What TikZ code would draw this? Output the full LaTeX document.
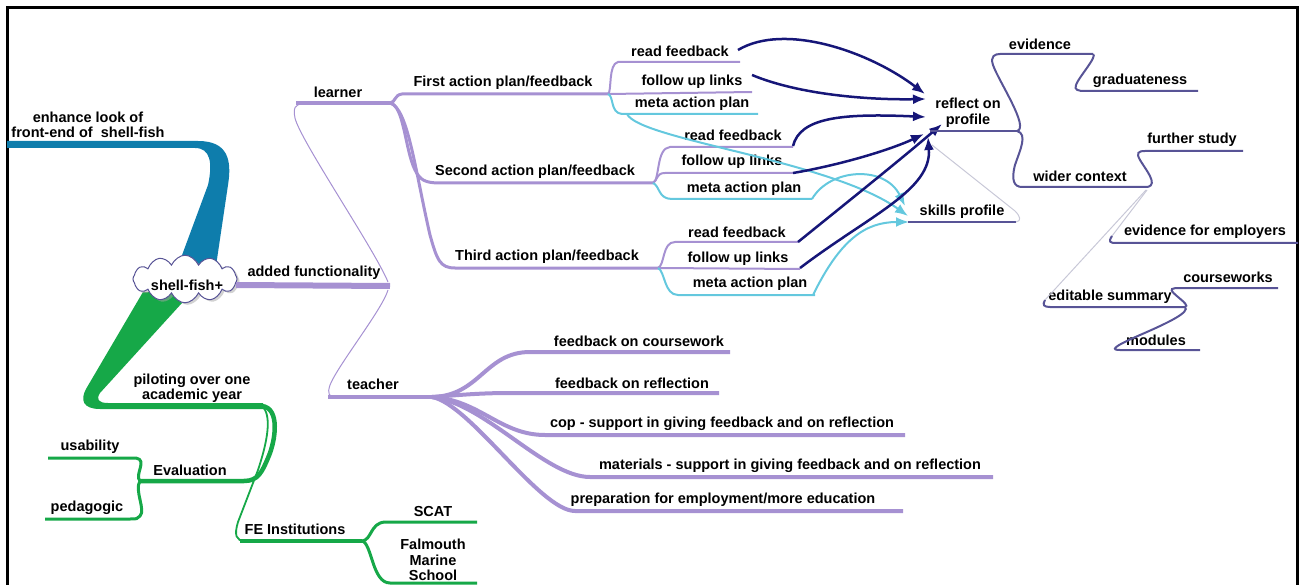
\documentclass[tikz,border=0pt]{standalone}
\usepackage{fontspec}
\setsansfont{Liberation Sans}
\usetikzlibrary{shapes.symbols,arrows.meta,shadows}
\definecolor{bluec}{RGB}{14,125,172}
\definecolor{greenc}{RGB}{22,168,72}
\definecolor{purplec}{RGB}{166,145,210}
\definecolor{cyanc}{RGB}{100,200,222}
\definecolor{navyc}{RGB}{22,22,120}
\definecolor{slatec}{RGB}{88,84,150}
\definecolor{lightc}{RGB}{200,200,215}
\begin{document}
\begin{tikzpicture}[x=1pt,y=-1pt,
  lbl/.style={font=\sffamily\bfseries\fontsize{14.5}{15.5}\selectfont, inner sep=0pt, align=center, text=black},
  pl/.style={purplec, line width=2},
  cl/.style={cyanc, line width=2},
  sl/.style={slatec, line width=2},
  gl/.style={greenc, line width=3},
  tl/.style={purplec, line width=4},
  thin/.style={line width=1},
  narrow/.style={navyc, line width=2.5, -{Latex[length=13pt,width=10pt]}},
  carrow/.style={cyanc, line width=2, -{Latex[length=13pt,width=10pt]}},
]
\useasboundingbox (0,0) rectangle (1300,585);
% frame
\draw[line width=3] (7,585) -- (7,8) -- (1297,8) -- (1297,585);

% blue main branch
\fill[bluec] (7,141) -- (198,141) .. controls (228,141) and (232,160) .. (228,185) -- (216,266) -- (178,266) -- (208,185) .. controls (213,162) and (210,148) .. (195,148) -- (7,148) -- cycle;
% green main branch
\fill[greenc] (143,292) -- (192,292) -- (100,393) .. controls (96,399) and (98,403) .. (108,403) -- (263,403) -- (263,409) -- (100,409) .. controls (83,409) and (80,400) .. (86,389) -- cycle;

% root
\node[cloud, cloud puffs=12, cloud puff arc=110, cloud ignores aspect, draw=slatec, line width=1, fill=white,
      minimum width=104, minimum height=34, inner sep=0pt, yscale=1.4, transform shape,
      drop shadow={shadow xshift=2.5pt, shadow yshift=-2pt, fill=gray!70}] (root) at (185,279) {};
\node[lbl] (rootl) at (187,285) {shell-fish+};

% labels
\node[lbl] (enh) at (88,125) {enhance look of\\front-end of\ \ shell-fish};
\node[lbl] (add) at (314,273) {added functionality};
\node[lbl] (learner) at (338,92) {learner};
\node[lbl] (teacher) at (373,384) {teacher};
\node[lbl] (ap1) at (503,83) {First action plan/feedback};
\node[lbl] (ap2) at (535,172) {Second action plan/feedback};
\node[lbl] (ap3) at (547,257) {Third action plan/feedback};
\node[lbl] (rf1) at (680,51) {read feedback};
\node[lbl] (fu1) at (692,82) {follow up links};
\node[lbl] (mp1) at (692,104) {meta action plan};
\node[lbl] (rf2) at (733,135) {read feedback};
\node[lbl] (fu2) at (732,162) {follow up links};
\node[lbl] (mp2) at (744,189) {meta action plan};
\node[lbl] (rf3) at (737,232) {read feedback};
\node[lbl] (fu3) at (738,259) {follow up links};
\node[lbl] (mp3) at (750,284) {meta action plan};
\node[lbl] (refl) at (968,113) {reflect on\\profile};
\node[lbl] (skills) at (962,212) {skills profile};
\node[lbl] (evid) at (1040,44) {evidence};
\node[lbl] (grad) at (1140,81) {graduateness};
\node[lbl] (wider) at (1080,176) {wider context};
\node[lbl] (further) at (1192,140) {further study};
\node[lbl] (emp) at (1205,232) {evidence for employers};
\node[lbl] (edit) at (1110,297) {editable summary};
\node[lbl] (cw) at (1228,277) {courseworks};
\node[lbl] (mod) at (1156,340) {modules};
\node[lbl] (t1) at (639,341) {feedback on coursework};
\node[lbl] (t2) at (632,383) {feedback on reflection};
\node[lbl] (t3) at (722,424) {cop - support in giving feedback and on reflection};
\node[lbl] (t4) at (790,466) {materials - support in giving feedback and on reflection};
\node[lbl] (t5) at (723,500) {preparation for employment/more education};
\node[lbl] (pilot) at (192,388) {piloting over one\\academic year};
\node[lbl] (eval) at (190,470) {Evaluation};
\node[lbl] (usab) at (90,447) {usability};
\node[lbl] (peda) at (87,508) {pedagogic};
\node[lbl] (fe) at (295,529) {FE Institutions};
\node[lbl] (scat) at (433,512) {SCAT};
\node[lbl] (falm) at (433,560) {Falmouth\\Marine\\School};

% junction coordinates
\coordinate (addE) at (390,286);
\coordinate (lrnE) at (390,103);
\coordinate (f1) at (608,94);
\coordinate (f2) at (653,183);
\coordinate (f3) at (658,268);
\coordinate (tchE) at (432,397);
\coordinate (reflE) at (1017,131);
\coordinate (widE) at (1148,187);
\coordinate (edE) at (1185,307);
\coordinate (pilE) at (262,406);
\coordinate (evL) at (140,481);
\coordinate (feE) at (362,541);

% green sub-branches
\draw[greenc, line width=4.5] (pilE) .. controls (280,408) and (276,440) .. (268,458) .. controls (262,472) and (258,481) .. (244,481) -- (evL);
\draw[greenc, line width=1.8] (pilE) .. controls (272,415) and (268,440) .. (258,470) -- (238,522) .. controls (234,535) and (236,541) .. (245,541);
\draw[greenc, line width=4] (240,541) -- (feE);
\draw[gl] (feE) .. controls (372,540) and (370,523) .. (385,522) -- (477,522);
\draw[gl] (feE) .. controls (372,543) and (372,583) .. (390,583) -- (477,583);
\draw[gl] (48,458) -- (136,458) .. controls (148,460) and (134,475) .. (evL);
\draw[gl] (evL) .. controls (134,490) and (146,510) .. (140,516) .. controls (138,519) and (136,519) .. (130,519) -- (45,519);

% purple added functionality
\draw[purplec, line width=6] (236,285) -- (addE);
\draw[purplec, thin] (388,282) .. controls (375,250) and (300,140) .. (295,118) .. controls (293,108) and (295,104) .. (303,104);
\draw[purplec, line width=4] (296,103) -- (lrnE);
\draw[purplec, line width=3] (lrnE) .. controls (396,102) and (394,95) .. (402,94) -- (f1);
\draw[purplec, line width=3] (lrnE) .. controls (404,105) and (405,150) .. (415,170) .. controls (420,180) and (425,183) .. (440,183) -- (f2);
\draw[purplec, line width=3] (lrnE) .. controls (408,108) and (415,170) .. (430,235) .. controls (437,260) and (440,268) .. (455,268) -- (f3);

% first action plan children
\draw[pl] (f1) .. controls (612,92) and (608,64) .. (618,62) -- (740,62);
\draw[pl] (f1) -- (752,92);
\draw[cl] (f1) .. controls (614,96) and (610,113) .. (622,114) -- (758,114);
% second
\draw[pl] (f2) .. controls (660,180) and (656,148) .. (670,147) -- (793,147);
\draw[pl] (f2) .. controls (658,180) and (656,173) .. (665,173) -- (793,173);
\draw[cl] (f2) .. controls (660,186) and (658,199) .. (672,199) -- (812,199);
% third
\draw[pl] (f3) .. controls (665,265) and (662,242) .. (675,242) -- (798,242);
\draw[pl] (f3) -- (800,269);
\draw[cl] (f3) .. controls (665,271) and (664,295) .. (678,295) -- (815,295);

% cyan arrows to skills profile
\draw[carrow] (627,114) .. controls (640,140) and (830,160) .. (908,216);
\draw[carrow] (812,199) .. controls (830,168) and (885,165) .. (905,206);
\draw[carrow] (813,295) .. controls (840,240) and (865,222) .. (909,222);

% navy arrows to reflect on profile
\draw[narrow] (738,50) .. controls (785,22) and (870,52) .. (925,94);
\draw[narrow] (752,75) .. controls (800,95) and (870,100) .. (926,99);
\draw[narrow] (793,146) .. controls (800,118) and (840,113) .. (926,117);
\draw[narrow] (793,173) .. controls (840,165) and (890,150) .. (924,134);
\draw[narrow] (798,242) .. controls (850,200) and (900,160) .. (942,124);
\draw[narrow] (800,268) .. controls (870,215) and (932,190) .. (928,137);

% right side
\draw[sl] (930,131) -- (reflE);
\draw[sl] (908,222) -- (1016,222);
\draw[lightc, thin] (1016,222) .. controls (1022,221) and (1020,216) .. (1015,211) -- (932,145);
\draw[sl] (reflE) .. controls (1030,128) and (998,80) .. (993,65) .. controls (990,56) and (995,54) .. (1000,54) -- (1093,54);
\draw[sl] (1093,54) .. controls (1098,56) and (1078,78) .. (1076,85) .. controls (1074,90) and (1078,91) .. (1085,91) -- (1198,91);
\draw[sl] (reflE) .. controls (1028,134) and (1020,150) .. (1015,165) .. controls (1011,180) and (1014,187) .. (1022,187) -- (widE);
\draw[sl] (widE) .. controls (1158,184) and (1146,170) .. (1140,160) .. controls (1136,153) and (1138,151) .. (1145,151) -- (1243,151);
\draw[lightc, thin] (1147,190) -- (1112,236);
\draw[sl] (1112,236) .. controls (1108,242) and (1110,243) .. (1116,243) -- (1298,243);
\draw[lightc, thin] (1146,190) -- (1045,300);
\draw[sl] (1045,300) .. controls (1042,305) and (1044,307) .. (1050,307) -- (edE);
\draw[sl] (edE) .. controls (1192,305) and (1168,292) .. (1172,289) .. controls (1174,288) and (1176,288) .. (1180,288) -- (1278,288);
\draw[sl] (edE) .. controls (1190,312) and (1170,322) .. (1140,335) .. controls (1110,348) and (1112,350) .. (1120,350) -- (1200,350);

% teacher
\draw[purplec, thin] (388,290) .. controls (382,310) and (338,365) .. (330,385) .. controls (327,394) and (329,397) .. (336,397);
\draw[tl] (328,397) -- (440,397);
\draw[tl] (tchE) .. controls (480,396) and (485,352) .. (530,352) -- (730,352);
\draw[tl] (tchE) .. controls (460,395) and (480,393) .. (510,393) -- (719,393);
\draw[tl] (tchE) .. controls (480,400) and (500,435) .. (545,435) -- (905,435);
\draw[tl] (tchE) .. controls (485,403) and (545,477) .. (590,477) -- (993,477);
\draw[tl] (tchE) .. controls (470,404) and (540,511) .. (575,511) -- (903,511);
\end{tikzpicture}
\end{document}
